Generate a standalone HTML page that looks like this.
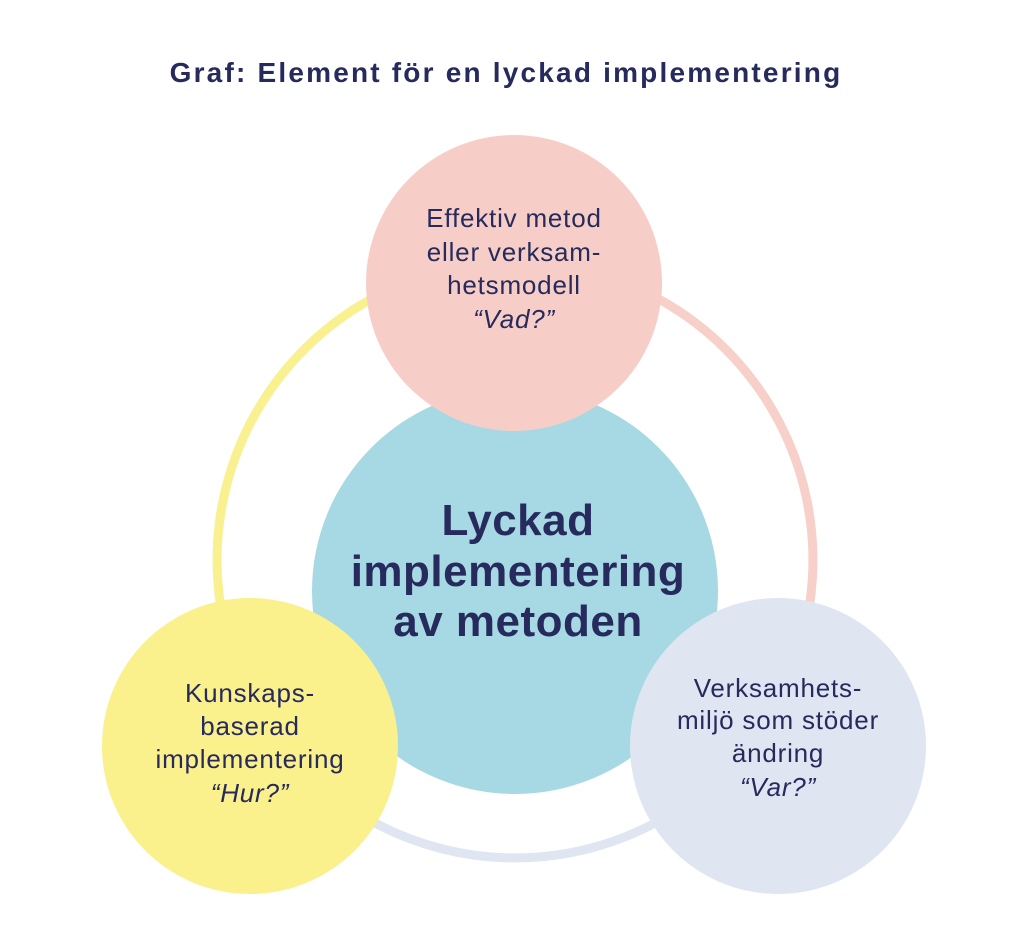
<!DOCTYPE html>
<html><head><meta charset="utf-8"><style>
html,body{margin:0;padding:0;background:#fff;}
svg{display:block;}
text{font-family:"Liberation Sans",sans-serif;fill:#262a5c;}
</style></head><body>
<svg width="1024" height="944" viewBox="0 0 1024 944" xmlns="http://www.w3.org/2000/svg">
<rect width="1024" height="944" fill="#fff"/>
<text x="506" y="82" font-size="28" font-weight="bold" text-anchor="middle" letter-spacing="2.2">Graf: Element för en lyckad implementering</text>
<g fill="none" stroke-width="9">
<path d="M271 731 A298 298 0 0 1 515 262" stroke="#f9f08f"/>
<path d="M515 262 A298 298 0 0 1 759 731" stroke="#f7d0c9"/>
<path d="M759 731 A298 298 0 0 1 271 731" stroke="#dfe6f2"/>
</g>
<circle cx="515" cy="591" r="203" fill="#a6d9e3"/>
<circle cx="514" cy="283" r="148" fill="#f7cec7"/>
<circle cx="250" cy="746" r="148" fill="#faf08c"/>
<circle cx="778" cy="746" r="148" fill="#dfe6f2"/>
<g font-size="26" text-anchor="middle" letter-spacing="0.8">
<text x="514" y="227">Effektiv metod</text>
<text x="514" y="261">eller verksam-</text>
<text x="514" y="294">hetsmodell</text>
<text x="514" y="328" font-style="italic">“Vad?”</text>
<text x="250" y="702">Kunskaps-</text>
<text x="250" y="735">baserad</text>
<text x="250" y="768">implementering</text>
<text x="250" y="802" font-style="italic">“Hur?”</text>
<text x="778" y="697">Verksamhets-</text>
<text x="778" y="729">miljö som stöder</text>
<text x="778" y="762">ändring</text>
<text x="778" y="796" font-style="italic">“Var?”</text>
</g>
<g font-size="44" font-weight="bold" text-anchor="middle" letter-spacing="0.5">
<text x="518" y="535">Lyckad</text>
<text x="518" y="586">implementering</text>
<text x="518" y="636">av metoden</text>
</g>
</svg>
</body></html>
